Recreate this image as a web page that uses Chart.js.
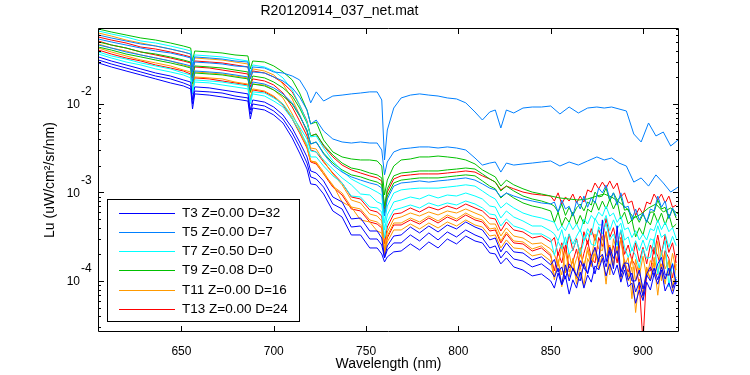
<!DOCTYPE html>
<html><head><meta charset="utf-8">
<script src="https://cdn.jsdelivr.net/npm/chart.js@4/dist/chart.umd.min.js"></script>
<style>html,body{margin:0;padding:0;background:#fff}canvas{display:block}</style>
</head><body>
<canvas id="c" width="750" height="375"></canvas>
<script>
const chartTitle = 'R20120914_037_net.mat';
const xTitle = 'Wavelength (nm)';
const yTitle = 'Lu (uW/cm\u00B2/sr/nm)';
const xTicks = [650, 700, 750, 800, 850, 900];
const yTickValues = [1e-4, 1e-3, 1e-2];
const yTickBase = '10';
const yTickExponents = ['-4', '-3', '-2'];
const legendLabels = ['T3 Z=0.00 D=32', 'T5 Z=0.00 D=7', 'T7 Z=0.50 D=0', 'T9 Z=0.08 D=0', 'T11 Z=0.00 D=16', 'T13 Z=0.00 D=24'];
const groupColors = ['#0000ff', '#0080ff', '#00ffff', '#00c000', '#ff9900', '#ff0000'];

// wavelengths (nm): common part 605-850, then a coarse or a fine near-IR tail
const wavelength = [605,612,620,628,636,644,651,655,656,657.2,665,672,679,686,687.3,688.6,695,700,705,710,714,718,720,723,727,732,737,742,747,752,756,758.5,760,761.5,765,769,774,779,784,789,794,799,804,809,813,817,820,823,826,830,835,840,845,850];
const nirCoarse = [855,860,865,870,875,879,883,887,891,895,899,903,907,911,915,919];
const nirFine = [852,854,856,858,860,862,864,866,868,870,872,874,876,878,880,882,884,886,888,890,892,894,896,898,900,902,904,906,908,910,912,914,916,918];

// T3 (blue)
const T3_a = [0.0340,0.0306,0.0276,0.0249,0.0224,0.0207,0.0187,0.0177,0.0111,0.0156,0.0152,0.0144,0.0137,0.0130,0.00855,0.0111,0.0105,0.00924,0.00751,0.00535,0.00372,0.00252,0.00175,0.00166,0.00135,0.000889,0.000781,0.000502,0.000515,0.000367,0.000367,0.000306,0.000182,0.000249,0.000322,0.000331,0.000407,0.000349,0.000418,0.000358,0.000429,0.000387,0.000464,0.000407,0.000377,0.000291,0.000306,0.000213,0.000269,0.000213,0.000207,0.000173,0.000187,0.000152,
  1.75e-4,1.26e-4,1.44e-4,1.05e-4,1.56e-4,1.37e-4,1.14e-4,1.7e-4,1.4e-4,1.23e-4,1.9e-4,2.4e-4,1.65e-4,4.9e-4,1.65e-4,2.4e-4,1.8e-4,2.2e-4,1.26e-4,1.6e-4,1.58e-4,1.0e-4,1.0e-4,1.33e-4,8.1e-5,1.2e-4,1.44e-4,1.17e-4,1.56e-4,1.85e-4,1.17e-4,1.17e-4,1.56e-4,9.2e-5];
const T3_b = [0.0314,0.0283,0.0255,0.0230,0.0207,0.0192,0.0173,0.0160,0.0100,0.0140,0.0137,0.0133,0.0123,0.0117,0.00771,0.0100,0.00949,0.00833,0.00676,0.00470,0.00327,0.00215,0.00150,0.00142,0.00115,0.000741,0.000651,0.000407,0.000418,0.000298,0.000298,0.000255,0.000182,0.000224,0.000269,0.000269,0.000331,0.000283,0.000349,0.000291,0.000358,0.000314,0.000377,0.000331,0.000306,0.000236,0.000249,0.000182,0.000218,0.000177,0.000168,0.000144,0.000156,0.000130,
  1.11e-4,1.4e-4,9.2e-5,1.52e-4,1.0e-4,1.4e-4,1.14e-4,1.0e-4,1.58e-4,1.2e-4,1.7e-4,1.2e-4,1.8e-4,2.0e-4,1.44e-4,2.2e-4,1.37e-4,4.2e-4,1.11e-4,1.52e-4,1.03e-4,1.23e-4,7.5e-5,9.7e-5,6.8e-5,1.17e-4,1.0e-4,1.4e-4,1.03e-4,1.44e-4,1.05e-4,1.4e-4,8.3e-5,1.05e-4];
const T3_c = [0.0291,0.0262,0.0236,0.0213,0.0192,0.0173,0.0160,0.0148,0.00878,0.0130,0.0126,0.0120,0.0114,0.0108,0.00676,0.00900,0.00855,0.00751,0.00610,0.00412,0.00279,0.00184,0.00125,0.00122,0.000961,0.000618,0.000528,0.000331,0.000331,0.000236,0.000236,0.000202,0.000164,0.000187,0.000213,0.000218,0.000262,0.000224,0.000276,0.000236,0.000298,0.000262,0.000322,0.000283,0.000269,0.000207,0.000202,0.000156,0.000182,0.000144,0.000133,0.000114,0.000120,0.000100,
  8.3e-5,1.23e-4,9.0e-5,1.14e-4,7.1e-5,1.03e-4,8.3e-5,1.26e-4,8.3e-5,1.17e-4,9.7e-5,1.48e-4,1.33e-4,1.8e-4,1.14e-4,1.56e-4,1.17e-4,1.52e-4,9.7e-5,1.33e-4,8.6e-5,9.5e-5,5.6e-5,7.9e-5,6.0e-5,9.7e-5,7.9e-5,1.2e-4,9.2e-5,1.33e-4,7.7e-5,9.5e-5,7.1e-5,1.0e-4];
// T5 (light blue)
const T5_a = [0.0602,0.0557,0.0515,0.0476,0.0452,0.0418,0.0387,0.0367,0.0262,0.0340,0.0331,0.0322,0.0306,0.0298,0.0213,0.0262,0.0255,0.0230,0.0224,0.0207,0.0187,0.0137,0.0103,0.0137,0.0108,0.0123,0.0126,0.0130,0.0133,0.0137,0.0137,0.0111,0.00233,0.00508,0.00900,0.0117,0.0126,0.0130,0.0126,0.0123,0.0117,0.0114,0.0103,0.00812,0.00659,0.00812,0.00855,0.00535,0.00855,0.00791,0.00900,0.00924,0.00924,0.00949,
  0.00771,0.00924,0.00791,0.00900,0.00924,0.00900,0.00924,0.00878,0.00833,0.00458,0.00372,0.00610,0.00435,0.00482,0.00335,0.00392];
const T5_b = [0.0542,0.0502,0.0464,0.0429,0.0397,0.0377,0.0349,0.0331,0.0230,0.0298,0.0291,0.0283,0.0269,0.0262,0.0192,0.0230,0.0224,0.0202,0.0182,0.0152,0.0120,0.00855,0.00594,0.00659,0.00495,0.00402,0.00372,0.00362,0.00372,0.00362,0.00362,0.00302,0.00158,0.00221,0.00287,0.00310,0.00318,0.00327,0.00327,0.00318,0.00327,0.00318,0.00302,0.00245,0.00204,0.00215,0.00221,0.00170,0.00215,0.00204,0.00210,0.00215,0.00221,0.00227,
  0.00199,0.00221,0.00204,0.00227,0.00252,0.00233,0.00245,0.00215,0.00199,0.00131,0.00146,0.00118,0.00158,0.00128,0.00101,0.00115];
const T5_c = [0.0464,0.0429,0.0387,0.0358,0.0331,0.0306,0.0283,0.0269,0.0177,0.0236,0.0230,0.0224,0.0213,0.0202,0.0144,0.0177,0.0168,0.0152,0.0130,0.0103,0.00751,0.00495,0.00353,0.00372,0.00272,0.00204,0.00170,0.00150,0.00138,0.00128,0.00122,0.00112,0.000542,0.000844,0.00118,0.00128,0.00131,0.00135,0.00131,0.00135,0.00138,0.00142,0.00146,0.00138,0.00125,0.00112,0.00107,0.000889,0.000986,0.000912,0.000844,0.000801,0.000761,0.000741,
  7.8e-4,6.0e-4,8.2e-4,6.5e-4,7.0e-4,5.4e-4,8.0e-4,6.5e-4,9.1e-4,6.8e-4,8.7e-4,7.6e-4,1.12e-3,9.9e-4,1.21e-3,8.4e-4,9.9e-4,7.2e-4,9.9e-4,6.7e-4,7.0e-4,4.9e-4,6.5e-4,4.9e-4,5.85e-4,4.6e-4,6.5e-4,6.2e-4,9.1e-4,6.8e-4,8.0e-4,5.1e-4,6.7e-4,5.4e-4];
// T7 (cyan)
const T7_a = [0.0668,0.0618,0.0571,0.0515,0.0489,0.0452,0.0418,0.0397,0.0276,0.0358,0.0349,0.0340,0.0322,0.0306,0.0224,0.0276,0.0262,0.0236,0.0197,0.0144,0.00974,0.00626,0.00424,0.00435,0.00318,0.00227,0.00175,0.00142,0.00125,0.00112,0.00101,0.000936,0.000452,0.000703,0.000986,0.00107,0.00110,0.00112,0.00112,0.00112,0.00115,0.00118,0.00122,0.00118,0.00104,0.000912,0.000844,0.000668,0.000761,0.000668,0.000586,0.000542,0.000515,0.000476,
  4.6e-4,3.7e-4,4.2e-4,3.7e-4,4.6e-4,3.8e-4,4.4e-4,3.6e-4,5.0e-4,4.4e-4,5.5e-4,4.9e-4,6.0e-4,5.4e-4,7.0e-4,5.4e-4,5.85e-4,4.6e-4,5.4e-4,3.8e-4,4.0e-4,3.1e-4,3.7e-4,2.9e-4,3.4e-4,2.9e-4,3.9e-4,3.7e-4,4.9e-4,3.8e-4,4.6e-4,3.6e-4,4.0e-4,3.0e-4];
const T7_b = [0.0387,0.0349,0.0322,0.0291,0.0269,0.0249,0.0224,0.0213,0.0140,0.0187,0.0182,0.0177,0.0168,0.0160,0.0108,0.0137,0.0133,0.0117,0.0100,0.00731,0.00549,0.00402,0.00294,0.00287,0.00233,0.00184,0.00146,0.00122,0.000961,0.000936,0.000781,0.000741,0.000377,0.000557,0.000781,0.000822,0.000889,0.000844,0.000936,0.000866,0.000936,0.000912,0.000986,0.000912,0.000844,0.000703,0.000685,0.000515,0.000618,0.000528,0.000476,0.000418,0.000418,0.000367,
  3.4e-4,2.85e-4,3.8e-4,2.55e-4,3.4e-4,2.6e-4,3.2e-4,3.8e-4,2.85e-4,3.9e-4,3.3e-4,5.1e-4,4.3e-4,4.3e-4,5.5e-4,3.7e-4,4.9e-4,3.9e-4,4.5e-4,2.9e-4,3.15e-4,2.2e-4,2.85e-4,2.2e-4,2.9e-4,2.2e-4,3.0e-4,2.85e-4,4.2e-4,3.1e-4,3.4e-4,2.4e-4,3.2e-4,2.5e-4];
const T7_c = [0.0367,0.0331,0.0298,0.0276,0.0249,0.0230,0.0213,0.0197,0.0130,0.0177,0.0173,0.0164,0.0156,0.0148,0.0100,0.0130,0.0123,0.0108,0.00924,0.00676,0.00495,0.00353,0.00252,0.00252,0.00199,0.00154,0.00128,0.000912,0.000889,0.000685,0.000668,0.000602,0.000306,0.000464,0.000634,0.000668,0.000722,0.000668,0.000761,0.000703,0.000761,0.000722,0.000801,0.000741,0.000668,0.000571,0.000557,0.000418,0.000502,0.000418,0.000387,0.000340,0.000340,0.000298,
  1.95e-4,2.8e-4,2.3e-4,3.15e-4,2.0e-4,2.3e-4,2.9e-4,2.0e-4,2.8e-4,3.5e-4,2.6e-4,2.5e-4,4.1e-4,3.4e-4,4.5e-4,2.9e-4,3.4e-4,2.5e-4,3.8e-4,2.4e-4,1.85e-4,2.3e-4,1.95e-4,1.4e-4,2.3e-4,1.8e-4,1.85e-4,3.0e-4,1.2e-4,2.05e-4,2.85e-4,8.6e-5,1.6e-4,9.7e-5];
// T9 (green)
const T9_a = [0.0703,0.0651,0.0602,0.0557,0.0528,0.0489,0.0452,0.0429,0.0306,0.0397,0.0387,0.0377,0.0358,0.0349,0.0249,0.0306,0.0298,0.0269,0.0230,0.0187,0.0133,0.00855,0.00594,0.00626,0.00392,0.00287,0.00252,0.00239,0.00233,0.00233,0.00227,0.00199,0.000936,0.00138,0.00199,0.00233,0.00239,0.00252,0.00252,0.00258,0.00252,0.00245,0.00233,0.00210,0.00180,0.00162,0.00150,0.00118,0.00138,0.00122,0.00110,0.00101,0.000961,0.000912,
  0.000866,0.000844,0.000822,0.000844,0.000912,0.000961,0.000889,0.000781,0.000668,0.000515,0.000571,0.000668,0.000741,0.000602,0.000668,0.000571];
const T9_b = [0.0502,0.0464,0.0429,0.0387,0.0367,0.0340,0.0314,0.0298,0.0207,0.0269,0.0262,0.0255,0.0242,0.0230,0.0168,0.0207,0.0197,0.0177,0.0152,0.0123,0.00900,0.00610,0.00435,0.00458,0.00344,0.00265,0.00215,0.00189,0.00180,0.00166,0.00158,0.00146,0.000703,0.00110,0.00154,0.00166,0.00170,0.00175,0.00175,0.00175,0.00180,0.00184,0.00189,0.00184,0.00162,0.00142,0.00131,0.00104,0.00118,0.00104,0.000912,0.000844,0.000801,0.000741,
  7.0e-4,6.0e-4,7.4e-4,5.5e-4,6.8e-4,5.5e-4,6.7e-4,7.4e-4,6.2e-4,7.8e-4,7.2e-4,1.01e-3,8.9e-4,9.1e-4,1.12e-3,8.0e-4,9.9e-4,8.2e-4,8.9e-4,6.3e-4,6.5e-4,4.75e-4,5.5e-4,4.6e-4,5.7e-4,4.6e-4,6.0e-4,6.0e-4,8.2e-4,6.5e-4,6.8e-4,5.1e-4,6.5e-4,5.1e-4];
const T9_c = [0.0440,0.0407,0.0367,0.0340,0.0314,0.0291,0.0269,0.0255,0.0168,0.0224,0.0218,0.0213,0.0202,0.0192,0.0137,0.0168,0.0160,0.0144,0.0123,0.0100,0.00731,0.00508,0.00353,0.00372,0.00279,0.00215,0.00180,0.00158,0.00150,0.00138,0.00131,0.00122,0.000586,0.000912,0.00128,0.00138,0.00142,0.00146,0.00146,0.00146,0.00150,0.00154,0.00158,0.00154,0.00135,0.00118,0.00110,0.000866,0.000986,0.000866,0.000761,0.000703,0.000668,0.000618,
  4.6e-4,6.0e-4,4.2e-4,5.25e-4,4.6e-4,6.0e-4,4.3e-4,5.5e-4,4.4e-4,6.5e-4,6.0e-4,8.0e-4,6.3e-4,8.0e-4,6.5e-4,8.4e-4,6.5e-4,8.0e-4,5.0e-4,6.0e-4,4.4e-4,4.9e-4,3.15e-4,4.0e-4,3.3e-4,4.9e-4,4.3e-4,5.85e-4,4.6e-4,5.85e-4,4.3e-4,5.7e-4,4.0e-4,4.4e-4];
// T11 (orange)
const T11_a = [0.0634,0.0586,0.0528,0.0489,0.0452,0.0418,0.0387,0.0367,0.0249,0.0331,0.0322,0.0314,0.0298,0.0283,0.0197,0.0249,0.0236,0.0213,0.0168,0.0114,0.00751,0.00482,0.00318,0.00310,0.00227,0.00162,0.00122,0.000822,0.000761,0.000571,0.000542,0.000476,0.000230,0.000358,0.000502,0.000528,0.000586,0.000542,0.000602,0.000557,0.000618,0.000586,0.000651,0.000586,0.000542,0.000440,0.000440,0.000322,0.000397,0.000322,0.000306,0.000262,0.000269,0.000230,
  2.0e-4,1.48e-4,2.5e-4,1.23e-4,2.05e-4,1.3e-4,1.8e-4,2.4e-4,1.37e-4,2.4e-4,1.65e-4,3.4e-4,2.3e-4,2.2e-4,3.6e-4,1.17e-4,3.0e-4,2.1e-4,3.0e-4,1.48e-4,1.85e-4,6.3e-5,1.75e-4,1.14e-4,1.9e-4,1.08e-4,1.7e-4,1.48e-4,2.8e-4,1.0e-4,2.05e-4,1.14e-4,2.05e-4,1.33e-4];
const T11_b = [0.0476,0.0429,0.0397,0.0358,0.0331,0.0306,0.0276,0.0262,0.0173,0.0230,0.0224,0.0218,0.0207,0.0197,0.0133,0.0168,0.0164,0.0144,0.0117,0.00771,0.00522,0.00335,0.00227,0.00215,0.00162,0.00122,0.000781,0.000685,0.000489,0.000464,0.000367,0.000349,0.000197,0.000276,0.000377,0.000377,0.000440,0.000387,0.000452,0.000397,0.000464,0.000418,0.000489,0.000429,0.000407,0.000322,0.000331,0.000236,0.000291,0.000236,0.000230,0.000192,0.000202,0.000168,
  1.03e-4,1.75e-4,8.6e-5,1.4e-4,1.11e-4,1.8e-4,9.2e-5,1.48e-4,8.8e-5,1.8e-4,1.44e-4,2.4e-4,1.37e-4,2.0e-4,9.2e-5,2.4e-4,1.48e-4,2.45e-4,1.03e-4,1.6e-4,1.0e-4,1.44e-4,4.4e-5,1.05e-4,7.1e-5,1.44e-4,1.03e-4,1.6e-4,6.9e-5,1.56e-4,9.2e-5,1.7e-4,8.8e-5,1.11e-4];
const T11_c = [0.0429,0.0387,0.0349,0.0314,0.0291,0.0269,0.0242,0.0230,0.0152,0.0202,0.0197,0.0192,0.0177,0.0168,0.0117,0.0148,0.0140,0.0123,0.0100,0.00694,0.00482,0.00327,0.00227,0.00221,0.00170,0.00118,0.000986,0.000685,0.000651,0.000489,0.000464,0.000418,0.000213,0.000322,0.000452,0.000452,0.000515,0.000464,0.000542,0.000476,0.000557,0.000502,0.000586,0.000515,0.000489,0.000387,0.000397,0.000283,0.000358,0.000283,0.000276,0.000230,0.000249,0.000202,
  1.11e-4,1.65e-4,1.17e-4,2.2e-4,1.26e-4,1.75e-4,1.05e-4,2.05e-4,1.48e-4,2.2e-4,1.52e-4,2.05e-4,1.56e-4,3.2e-4,1.9e-4,2.55e-4,1.56e-4,2.45e-4,1.26e-4,1.75e-4,1.11e-4,1.8e-4,1.0e-4,1.48e-4,6.3e-5,1.37e-4,1.03e-4,1.85e-4,1.17e-4,2.2e-4,1.37e-4,1.7e-4,7.7e-5,1.56e-4];
// T13 (red)
const T13_a = [0.0571,0.0528,0.0489,0.0440,0.0418,0.0387,0.0358,0.0340,0.0236,0.0306,0.0298,0.0291,0.0276,0.0262,0.0192,0.0236,0.0224,0.0202,0.0173,0.0137,0.00974,0.00642,0.00435,0.00458,0.00335,0.00252,0.00204,0.00180,0.00166,0.00154,0.00146,0.00135,0.000651,0.00101,0.00142,0.00154,0.00158,0.00162,0.00162,0.00162,0.00166,0.00170,0.00175,0.00170,0.00154,0.00142,0.00131,0.00107,0.00118,0.00110,0.00101,0.000961,0.000936,0.000912,
  8.0e-4,9.9e-4,7.4e-4,8.9e-4,8.0e-4,9.6e-4,7.6e-4,9.1e-4,7.8e-4,1.07e-3,1.01e-3,1.28e-3,1.10e-3,1.31e-3,1.12e-3,1.35e-3,1.10e-3,1.28e-3,8.9e-4,9.9e-4,7.6e-4,8.0e-4,5.5e-4,6.7e-4,5.7e-4,7.8e-4,7.4e-4,9.6e-4,8.2e-4,9.6e-4,7.6e-4,9.1e-4,6.8e-4,7.2e-4];
const T13_b = [0.0515,0.0464,0.0429,0.0387,0.0358,0.0331,0.0306,0.0291,0.0197,0.0262,0.0255,0.0242,0.0230,0.0218,0.0156,0.0192,0.0182,0.0164,0.0133,0.00924,0.00642,0.00435,0.00302,0.00287,0.00221,0.00166,0.00128,0.000889,0.000844,0.000634,0.000602,0.000542,0.000262,0.000407,0.000571,0.000586,0.000668,0.000602,0.000685,0.000634,0.000703,0.000651,0.000741,0.000668,0.000618,0.000515,0.000502,0.000367,0.000464,0.000377,0.000358,0.000306,0.000322,0.000276,
  3.1e-4,1.95e-4,2.7e-4,2.05e-4,3.4e-4,2.2e-4,3.0e-4,1.9e-4,3.6e-4,2.6e-4,3.9e-4,2.85e-4,3.8e-4,2.9e-4,5.1e-4,3.1e-4,4.0e-4,2.55e-4,3.7e-4,2.0e-4,2.55e-4,1.7e-4,2.7e-4,1.65e-4,2.4e-4,1.56e-4,2.55e-4,2.0e-4,3.3e-4,2.0e-4,3.3e-4,2.1e-4,2.7e-4,1.6e-4];
const T13_c = [0.0407,0.0367,0.0331,0.0306,0.0276,0.0255,0.0236,0.0218,0.0144,0.0197,0.0192,0.0182,0.0173,0.0164,0.0111,0.0144,0.0137,0.0120,0.00974,0.00676,0.00470,0.00318,0.00221,0.00210,0.00162,0.00115,0.000936,0.000651,0.000618,0.000464,0.000440,0.000397,0.000202,0.000306,0.000429,0.000429,0.000489,0.000440,0.000515,0.000452,0.000528,0.000476,0.000557,0.000489,0.000464,0.000367,0.000377,0.000269,0.000340,0.000269,0.000262,0.000218,0.000236,0.000192,
  1.3e-4,2.1e-4,1.6e-4,2.55e-4,1.4e-4,1.65e-4,2.3e-4,1.37e-4,2.05e-4,2.85e-4,1.8e-4,1.6e-4,3.1e-4,2.45e-4,3.6e-4,1.95e-4,2.5e-4,1.6e-4,3.1e-4,1.6e-4,1.26e-4,1.75e-4,1.48e-4,9.2e-5,2.0e-5,1.3e-4,1.3e-4,2.4e-4,1.9e-4,1.37e-4,2.2e-4,1.8e-4,1.08e-4,1.95e-4];

const groups = [[T3_a, T3_b, T3_c], [T5_a, T5_b, T5_c], [T7_a, T7_b, T7_c], [T9_a, T9_b, T9_c], [T11_a, T11_b, T11_c], [T13_a, T13_b, T13_c]];

Chart.defaults.font.family = '"Liberation Sans", Arial, Helvetica, sans-serif';
Chart.defaults.color = '#000';

const xCoarse = wavelength.concat(nirCoarse);
const xFine = wavelength.concat(nirFine);
const datasets = [];
groups.forEach((g, gi) => g.forEach(arr => {
  const xs = arr.length === xCoarse.length ? xCoarse : xFine;
  datasets.push({
    label: legendLabels[gi],
    data: xs.map((w, i) => ({x: w, y: arr[i]})),
    borderColor: groupColors[gi],
    borderWidth: 1,
    pointRadius: 0,
    tension: 0,
    fill: false
  });
}));

const framePlugin = {
  id: 'matlabFrame',
  afterDatasetsDraw(chart) {
    const {ctx, chartArea: ca, scales: {x, y}} = chart;
    ctx.save();
    ctx.strokeStyle = '#000';
    ctx.lineWidth = 1;
    ctx.beginPath();
    ctx.rect(ca.left + 0.5, ca.top + 0.5, ca.right - ca.left - 1, ca.bottom - ca.top - 1);
    xTicks.forEach(v => {
      const px = Math.round(x.getPixelForValue(v)) + 0.5;
      ctx.moveTo(px, ca.bottom); ctx.lineTo(px, ca.bottom - 6);
      ctx.moveTo(px, ca.top); ctx.lineTo(px, ca.top + 6);
    });
    for (let d = -5; d <= -1; d++) {
      for (let m = 1; m <= 9; m++) {
        const v = m * Math.pow(10, d);
        if (v < y.min || v > y.max) continue;
        const py = Math.round(y.getPixelForValue(v)) + 0.5;
        const len = m === 1 ? 6 : 3;
        ctx.moveTo(ca.left, py); ctx.lineTo(ca.left + len, py);
        ctx.moveTo(ca.right, py); ctx.lineTo(ca.right - len, py);
      }
    }
    ctx.stroke();

    ctx.fillStyle = '#000';
    ctx.font = '12px "Liberation Sans", Arial, sans-serif';
    ctx.textBaseline = 'middle';
    yTickValues.forEach((v, i) => {
      const py = y.getPixelForValue(v);
      ctx.textAlign = 'right';
      ctx.fillText(yTickBase, ca.left - 18, py + 1);
      ctx.textAlign = 'left';
      ctx.fillText(yTickExponents[i], ca.left - 17, py - 12);
    });

    const bx = ca.left + 9.5, by = ca.top + 171.5, bw = 192, bh = 122;
    ctx.fillStyle = '#fff';
    ctx.fillRect(bx, by, bw, bh);
    ctx.strokeStyle = '#000';
    ctx.strokeRect(bx, by, bw, bh);
    ctx.font = '13.5px "Liberation Sans", Arial, sans-serif';
    ctx.textAlign = 'left';
    legendLabels.forEach((t, i) => {
      const ry = Math.round(by + 13 + i * 19.3) + 0.5;
      ctx.strokeStyle = groupColors[i];
      ctx.beginPath();
      ctx.moveTo(bx + 11.5, ry); ctx.lineTo(bx + 67.5, ry);
      ctx.stroke();
      ctx.fillStyle = '#000';
      ctx.fillText(t, bx + 74.5, ry);
    });
    ctx.restore();
  }
};

new Chart(document.getElementById('c'), {
  type: 'line',
  data: {datasets},
  options: {
    responsive: false,
    animation: false,
    devicePixelRatio: 1,
    layout: {padding: {left: 0, right: 71, top: 0, bottom: 0}},
    plugins: {
      legend: {display: false},
      tooltip: {enabled: false},
      title: {display: true, text: chartTitle, color: '#000', font: {size: 14, weight: 'normal'}, padding: {top: 3, bottom: 8.2}}
    },
    scales: {
      x: {
        type: 'linear', min: 604.8, max: 919.5,
        grid: {display: false, drawTicks: false}, border: {display: false},
        afterBuildTicks: s => { s.ticks = xTicks.map(v => ({value: v})); },
        afterFit: s => { s.height = 43; },
        ticks: {color: '#000', font: {size: 12}, padding: 12, maxRotation: 0, autoSkip: false},
        title: {display: true, text: xTitle, color: '#000', font: {size: 14}, padding: {top: 0, bottom: 2}}
      },
      y: {
        type: 'logarithmic', min: 2.65e-5, max: 0.0722,
        grid: {display: false, drawTicks: false}, border: {display: false},
        ticks: {display: false},
        afterFit: s => { s.width = 98; },
        title: {display: true, text: yTitle, color: '#000', font: {size: 14}, padding: {top: 42, bottom: 0}}
      }
    }
  },
  plugins: [framePlugin]
});
</script>
</body></html>
